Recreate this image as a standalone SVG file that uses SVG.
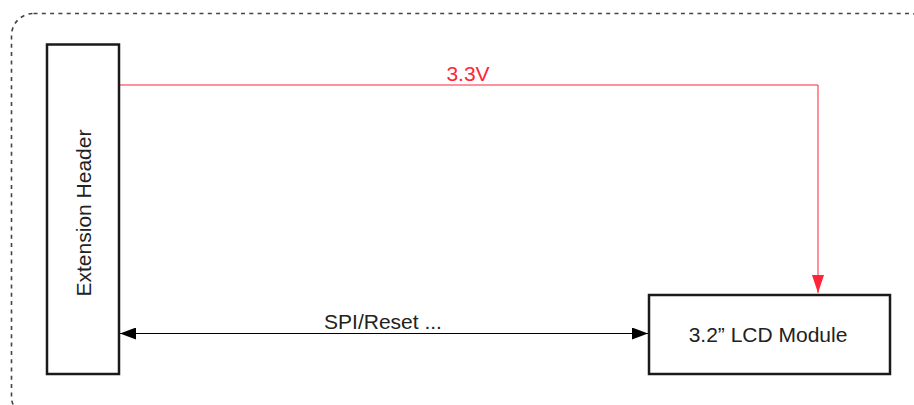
<svg xmlns="http://www.w3.org/2000/svg" width="914" height="405" viewBox="0 0 914 405">
<style>
.box{fill:#fff;stroke:#1a1a1a;stroke-width:2.5}
.lbl{font-family:"Liberation Sans",Arial,sans-serif;font-size:21px;fill:#222}
.red{fill:#ff2438}
</style>
<defs>
<marker id="ab" viewBox="0 0 16 12" refX="16" refY="6" markerWidth="16" markerHeight="12" markerUnits="userSpaceOnUse" orient="auto-start-reverse">
<path d="M0,0 L16,6 L0,12 Z" fill="#000"/>
</marker>
</defs>
<rect x="11.5" y="13.5" width="920" height="405" rx="22" fill="none" stroke="#444" stroke-width="1.6" stroke-dasharray="4 4.3"/>
<g id="connectors">
<path d="M119,85 H818 V293" fill="none" stroke="#ff2438" stroke-width="1"/>
<path d="M818,275 L812,275 L818,293 L824,275 Z" fill="#ff2438"/>
<line x1="120" y1="333.5" x2="648" y2="333.5" stroke="#000" stroke-width="1" marker-start="url(#ab)" marker-end="url(#ab)"/>
<text class="lbl red" x="468" y="81" text-anchor="middle">3.3V</text>
<text class="lbl" x="383" y="329" text-anchor="middle">SPI/Reset ...</text>
</g>
<g id="extension-header">
<rect class="box" x="47" y="44.5" width="72" height="329.5"/>
<text class="lbl" transform="translate(91,213) rotate(-90)" text-anchor="middle">Extension Header</text>
</g>
<g id="lcd-module">
<rect class="box" x="649" y="295" width="241" height="79"/>
<text class="lbl" x="768" y="342" text-anchor="middle">3.2” LCD Module</text>
</g>
</svg>
